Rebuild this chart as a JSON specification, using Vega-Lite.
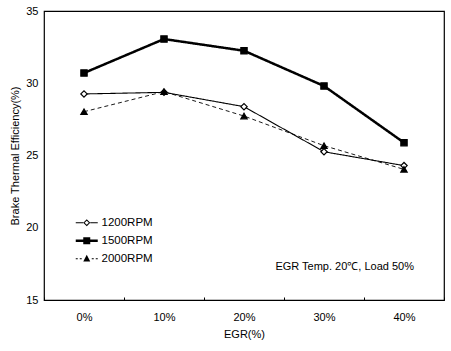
{
  "$schema": "https://vega.github.io/schema/vega-lite/v6.json",
  "width": 400,
  "height": 289,
  "autosize": {"type": "none"},
  "padding": {"left": 44, "top": 11, "right": 7, "bottom": 51},
  "background": "white",
  "config": {
    "view": {"stroke": "black", "strokeWidth": 1.2},
    "font": "Liberation Sans",
    "axis": {"labelFont": "Liberation Sans", "titleFont": "Liberation Sans", "labelColor": "black", "titleColor": "black", "labelFontSize": 11, "titleFontSize": 11, "titleFontWeight": "normal", "grid": false, "domain": false}
  },
  "data": {
    "values": [
      {"egr": "0%", "rpm": "1200RPM", "bte": 29.26},
      {"egr": "10%", "rpm": "1200RPM", "bte": 29.37},
      {"egr": "20%", "rpm": "1200RPM", "bte": 28.38},
      {"egr": "30%", "rpm": "1200RPM", "bte": 25.26},
      {"egr": "40%", "rpm": "1200RPM", "bte": 24.3},
      {"egr": "0%", "rpm": "1500RPM", "bte": 30.71},
      {"egr": "10%", "rpm": "1500RPM", "bte": 33.06},
      {"egr": "20%", "rpm": "1500RPM", "bte": 32.25},
      {"egr": "30%", "rpm": "1500RPM", "bte": 29.81},
      {"egr": "40%", "rpm": "1500RPM", "bte": 25.89},
      {"egr": "0%", "rpm": "2000RPM", "bte": 28.03},
      {"egr": "10%", "rpm": "2000RPM", "bte": 29.42},
      {"egr": "20%", "rpm": "2000RPM", "bte": 27.73},
      {"egr": "30%", "rpm": "2000RPM", "bte": 25.68},
      {"egr": "40%", "rpm": "2000RPM", "bte": 24.04}
    ]
  },
  "encoding": {
    "x": {
      "field": "egr", "type": "ordinal", "sort": ["0%", "10%", "20%", "30%", "40%"],
      "scale": {"type": "band", "paddingInner": 0, "paddingOuter": 0},
      "axis": {"title": "EGR(%)", "labelAngle": 0, "tickBand": "extent", "ticks": true, "tickSize": -3, "tickColor": "black", "labelPadding": 14, "titlePadding": 6}
    },
    "y": {
      "field": "bte", "type": "quantitative",
      "scale": {"domain": [15, 35], "nice": false, "zero": false},
      "axis": {"title": "Brake Thermal Efficiency(%)", "values": [15, 20, 25, 30, 35], "ticks": false, "labelPadding": 6, "titlePadding": 5}
    }
  },
  "layer": [
    {
      "mark": {"type": "line", "color": "black"},
      "encoding": {
        "detail": {"field": "rpm"},
        "strokeDash": {"field": "rpm", "type": "nominal", "scale": {"domain": ["1200RPM", "1500RPM", "2000RPM"], "range": [[1, 0], [1, 0], [4, 3]]}, "legend": null},
        "strokeWidth": {"field": "rpm", "type": "nominal", "scale": {"type": "ordinal", "domain": ["1200RPM", "1500RPM", "2000RPM"], "range": [1.1, 2.5, 0.9]}, "legend": null}
      }
    },
    {
      "mark": {"type": "point", "filled": true, "opacity": 1, "stroke": "black", "strokeWidth": 1.2, "size": 40},
      "encoding": {
        "shape": {"field": "rpm", "type": "nominal", "scale": {"domain": ["1200RPM", "1500RPM", "2000RPM"], "range": ["diamond", "square", "triangle-up"]}, "legend": null},
        "fill": {"field": "rpm", "type": "nominal", "scale": {"domain": ["1200RPM", "1500RPM", "2000RPM"], "range": ["white", "black", "black"]}, "legend": null}
      }
    },
    {
      "mark": {"type": "point", "filled": true, "opacity": 0, "color": "black"},
      "encoding": {
        "shape": {
          "field": "rpm", "type": "nominal",
          "scale": {"domain": ["1200RPM", "1500RPM", "2000RPM"], "range": [
            "M-2.2,-0.12H-0.7V0.12H-2.2ZM0.7,-0.12H2.2V0.12H0.7ZM0,-0.7L0.7,0L0,0.7L-0.7,0ZM0,-0.42L-0.42,0L0,0.42L0.42,0Z",
            "M-2.2,-0.24H2.2V0.24H-2.2ZM-0.7,-0.7H0.7V0.7H-0.7Z",
            "M-2.2,-0.1H-1.8V0.1H-2.2ZM-1.4,-0.1H-1.0V0.1H-1.4ZM1.0,-0.1H1.4V0.1H1.0ZM1.8,-0.1H2.2V0.1H1.8ZM0,-0.8L0.7,0.55H-0.7Z"
          ]},
          "legend": {
            "title": null, "orient": "none", "legendX": 37, "legendY": 206,
            "symbolSize": 100, "symbolOpacity": 1, "symbolFillColor": "black", "symbolStrokeColor": "black", "symbolStrokeWidth": 0,
            "labelFont": "Liberation Sans", "labelFontSize": 11.5, "labelColor": "black", "labelOffset": 9, "rowPadding": 5, "padding": 0
          }
        }
      }
    },
    {
      "transform": [{"filter": "datum.egr == '40%' && datum.rpm == '1200RPM'"}],
      "mark": {"type": "text", "text": "EGR Temp. 20\u2103, Load 50%", "align": "right", "baseline": "middle", "dx": 10, "font": "Liberation Sans", "fontSize": 11, "color": "black"},
      "encoding": {
        "y": {"datum": 17.3}
      }
    }
  ],
  "resolve": {"scale": {"shape": "independent"}}
}
